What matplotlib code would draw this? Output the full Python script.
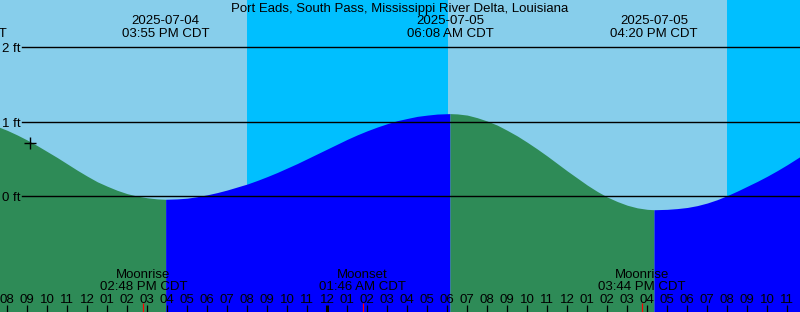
import matplotlib
matplotlib.use("Agg")
import matplotlib.pyplot as plt
from matplotlib.transforms import blended_transform_factory

# tide heights (ft) read every half hour, hours counted from 2025-07-04 00:00 CDT
hours = [7, 7.5, 8, 8.5, 9, 9.5, 10, 10.5, 11, 11.5, 12, 12.5, 13, 13.5, 14, 14.5,
	15, 15.5, 15.917, 16.5, 17, 17.5, 18, 18.5, 19, 19.5, 20, 20.5, 21, 21.5, 22, 22.5,
	23, 23.5, 24, 24.5, 25, 25.5, 26, 26.5, 27, 27.5, 28, 28.5, 29, 29.5, 30.133, 30.5,
	31, 31.5, 32, 32.5, 33, 33.5, 34, 34.5, 35, 35.5, 36, 36.5, 37, 37.5, 38, 38.5,
	39, 39.5, 40, 40.333, 40.5, 41, 41.5, 42, 42.5, 43, 43.5, 44, 44.5, 45, 45.5, 46,
	46.5, 47, 47.5, 48]
heights = [0.98, 0.938, 0.885, 0.823, 0.755, 0.68, 0.60, 0.52, 0.435, 0.35, 0.27, 0.195,
	0.135, 0.08, 0.035, 0.003, -0.02, -0.035, -0.04, -0.035, -0.025, -0.005, 0.02, 0.05,
	0.085, 0.125, 0.165, 0.213, 0.265, 0.32, 0.38, 0.44, 0.505, 0.57, 0.635, 0.70, 0.765,
	0.825, 0.88, 0.93, 0.975, 1.015, 1.045, 1.073, 1.09, 1.104, 1.11, 1.106, 1.09, 1.055,
	1.01, 0.955, 0.885, 0.81, 0.725, 0.635, 0.54, 0.44, 0.34, 0.245, 0.15, 0.065, -0.01,
	-0.07, -0.12, -0.155, -0.175, -0.18, -0.179, -0.175, -0.165, -0.15, -0.125, -0.09,
	-0.045, 0.01, 0.07, 0.135, 0.2, 0.27, 0.345, 0.425, 0.51, 0.595]

ext_times = [5.8, 15.917, 30.133, 40.333]
ext_dates = ["2025-07-04", "2025-07-04", "2025-07-05", "2025-07-05"]
ext_labels = ["05:48 AM CDT", "03:55 PM CDT", "06:08 AM CDT", "04:20 PM CDT"]

moon_times = [14.8, 25.767, 39.733]
moon_names = ["Moonrise", "Moonset", "Moonrise"]
moon_labels = ["02:48 PM CDT", "01:46 AM CDT", "03:44 PM CDT"]

night_start = [19.97, 43.98]
night_end = [30.03, 48]

now_time, now_height = 9.135, 0.72
levels = [0, 1, 2]
title = "Port Eads, South Pass, Mississippi River Delta, Louisiana"

plt.rcParams['font.family'] = ['Liberation Sans', 'DejaVu Sans']
plt.rcParams['font.size'] = 9.5

W, H = 800, 312
fig = plt.figure(figsize=(W / 100, H / 100), dpi=100, facecolor='#87ceeb')
ax = fig.add_axes([0, 0, 1, 1])
ax.set_axis_off()
ymin, ymax = -1.553, 2.635
ax.set_xlim(7.635, 47.635)
ax.set_ylim(ymin, ymax)
tr = blended_transform_factory(ax.transData, ax.transAxes)
tr_y = blended_transform_factory(ax.transAxes, ax.transData)

def ypix(p):
	# pixel row from the top -> axes fraction
	return 1 - p / H

for a, b in zip(night_start, night_end):
	ax.axvspan(a, b, color='#00bfff', lw=0)

# fill the tide, green when falling, blue when rising
cut = [hours.index(t) for t in ext_times if t in hours]
starts = [0] + cut
ends = cut + [len(hours) - 1]
for s, e in zip(starts, ends):
	col = '#2e8b57' if heights[e] < heights[s] else '#0000ff'
	ax.fill_between(hours[s:e + 1], heights[s:e + 1], ymin, color=col, lw=0)

for lvl in levels:
	ax.axhline(lvl, xmin=22 / W, color='black', lw=1.0)
	ax.text(2 / W, lvl - 1.8 / 74.5, f"{lvl} ft", transform=tr_y, ha='left', va='center')

ax.plot(now_time, now_height, marker='+', color='black', ms=9, mew=1.0)

fig.text(0.5, ypix(9), title, ha='center', va='center')
for t, d, l in zip(ext_times, ext_dates, ext_labels):
	ax.text(t, ypix(21), d, transform=tr, ha='center', va='center', clip_on=False)
	ax.text(t, ypix(34), l, transform=tr, ha='center', va='center', clip_on=False)

for t, n, l in zip(moon_times, moon_names, moon_labels):
	ax.text(t, ypix(275), n, transform=tr, ha='center', va='center')
	ax.text(t, ypix(287), l, transform=tr, ha='center', va='center')
	ax.vlines(t, 0, 9 / H, transform=tr, color='red', lw=0.9)

for h in range(8, 48):
	hr = h % 24
	h12 = hr % 12 or 12
	ax.text(h, ypix(300), f"{h12:02d}", transform=tr, ha='center', va='center')
	ax.vlines(h, 0, 7 / H, transform=tr, color='black', lw=2.2 if hr == 0 else 0.9)

fig.savefig("out.png", dpi=100, facecolor=fig.get_facecolor())
